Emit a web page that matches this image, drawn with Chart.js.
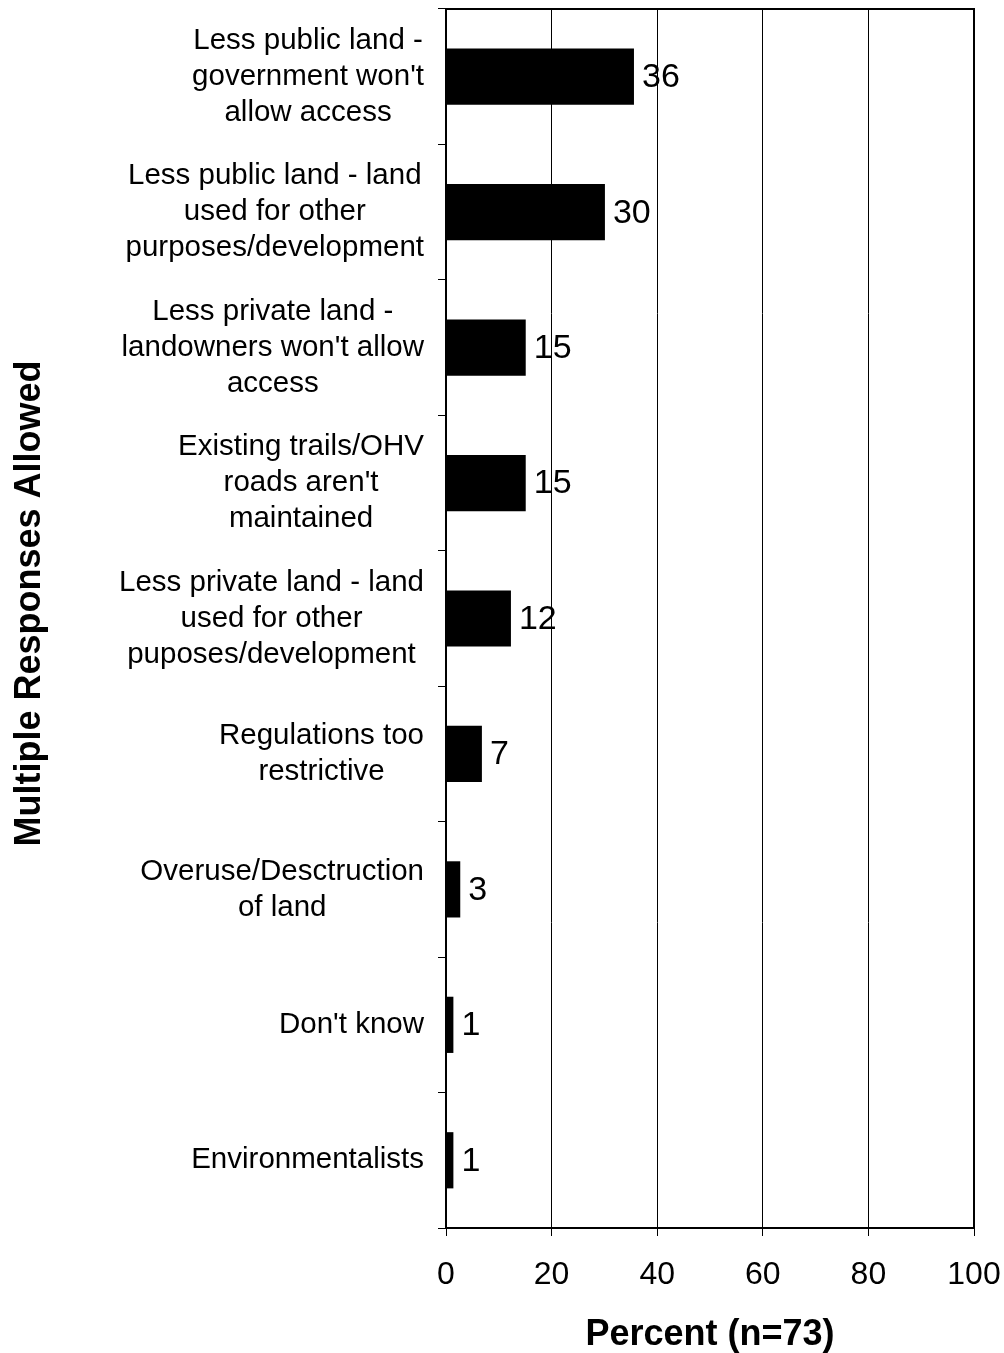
<!DOCTYPE html>
<html>
<head>
<meta charset="utf-8">
<script src="https://cdn.jsdelivr.net/npm/chart.js@4.4.1/dist/chart.umd.min.js"></script>
<style>
  body { margin: 0; background: #fff; }
  #wrap { width: 1004px; height: 1353px; }
</style>
</head>
<body>
<div id="wrap"><canvas id="accessChart"></canvas></div>
<script>
// reasons for access problems, multiple responses allowed (n=73)
const categories = [
  ["Less public land -", "government won't", "allow access"],
  ["Less public land - land", "used for other", "purposes/development"],
  ["Less private land -", "landowners won't allow", "access"],
  ["Existing trails/OHV", "roads aren't", "maintained"],
  ["Less private land - land", "used for other", "puposes/development"],
  ["Regulations too", "restrictive"],
  ["Overuse/Desctruction", "of land"],
  ["Don't know"],
  ["Environmentalists"]
];
const percents = [35.6, 30.1, 15.1, 15.1, 12.3, 6.8, 2.7, 1.4, 1.4];
const xTicks = [0, 20, 40, 60, 80, 100];

const FONT = "'Liberation Sans', Arial, sans-serif";

// category labels: block right aligned to the axis, lines centred inside the block
const categoryLabels = {
  id: "categoryLabels",
  afterDraw(chart) {
    const ctx = chart.ctx;
    const yScale = chart.scales.y;
    const lineH = 36;
    ctx.save();
    ctx.font = "29.5px " + FONT;
    ctx.fillStyle = "#000";
    ctx.textAlign = "center";
    ctx.textBaseline = "middle";
    categories.forEach((lines, i) => {
      const yc = yScale.getPixelForValue(i);
      const w = Math.max(...lines.map((l) => ctx.measureText(l).width));
      const xc = chart.chartArea.left - 22 - w / 2;
      lines.forEach((l, j) => {
        ctx.fillText(l, xc, yc + (j - (lines.length - 1) / 2) * lineH);
      });
    });
    ctx.restore();
  }
};

// value labels just past the end of each bar
const valueLabels = {
  id: "valueLabels",
  afterDatasetsDraw(chart) {
    const ctx = chart.ctx;
    const meta = chart.getDatasetMeta(0);
    ctx.save();
    ctx.font = "34px " + FONT;
    ctx.fillStyle = "#000";
    ctx.textAlign = "left";
    ctx.textBaseline = "middle";
    meta.data.forEach((bar, i) => {
      ctx.fillText(Math.round(percents[i]), bar.x + 8, bar.y + 1);
    });
    ctx.restore();
  }
};

// top and right edge of the plot frame
const frame = {
  id: "frame",
  afterDraw(chart) {
    const { left, right, top, bottom } = chart.chartArea;
    const ctx = chart.ctx;
    ctx.save();
    ctx.strokeStyle = "#000";
    ctx.lineWidth = 2;
    ctx.beginPath();
    ctx.moveTo(left, top);
    ctx.lineTo(right, top);
    ctx.lineTo(right, bottom);
    ctx.stroke();
    ctx.restore();
  }
};

new Chart(document.getElementById("accessChart"), {
  type: "bar",
  data: {
    labels: categories,
    datasets: [
      {
        data: percents,
        backgroundColor: "#000",
        borderWidth: 0,
        barPercentage: 0.415,
        categoryPercentage: 1
      }
    ]
  },
  options: {
    indexAxis: "y",
    responsive: true,
    maintainAspectRatio: false,
    animation: false,
    layout: { padding: { top: 9, right: 30, left: 0, bottom: 0 } },
    plugins: {
      legend: { display: false },
      tooltip: { enabled: false }
    },
    scales: {
      x: {
        min: 0,
        max: 100,
        afterBuildTicks: (scale) => {
          scale.ticks = xTicks.map((v) => ({ value: v }));
        },
        afterFit: (scale) => {
          scale.height = 125;
          scale.paddingLeft = 0;
          scale.paddingRight = 0;
        },
        grid: {
          color: "#000",
          lineWidth: 1,
          tickLength: 8,
          drawTicks: true
        },
        border: { display: true, color: "#000", width: 2 },
        ticks: {
          color: "#000",
          font: { family: FONT, size: 32 },
          padding: 20,
          maxRotation: 0
        },
        title: {
          display: true,
          text: "Percent (n=73)",
          color: "#000",
          font: { family: FONT, size: 36, weight: "bold" },
          padding: { top: 0, bottom: -4 }
        }
      },
      y: {
        afterFit: (scale) => {
          scale.width = 446;
        },
        grid: {
          display: true,
          drawOnChartArea: false,
          drawTicks: true,
          tickLength: 8,
          offset: true,
          color: "#000"
        },
        border: { display: true, color: "#000", width: 2 },
        ticks: { display: false },
        title: {
          display: true,
          // leading spaces nudge the title a little above the axis centre, as in the original
          text: "   Multiple Responses Allowed",
          color: "#000",
          font: { family: FONT, size: 36, weight: "bold" },
          padding: { top: 8, bottom: 0 }
        }
      }
    }
  },
  plugins: [categoryLabels, valueLabels, frame]
});
</script>
</body>
</html>
